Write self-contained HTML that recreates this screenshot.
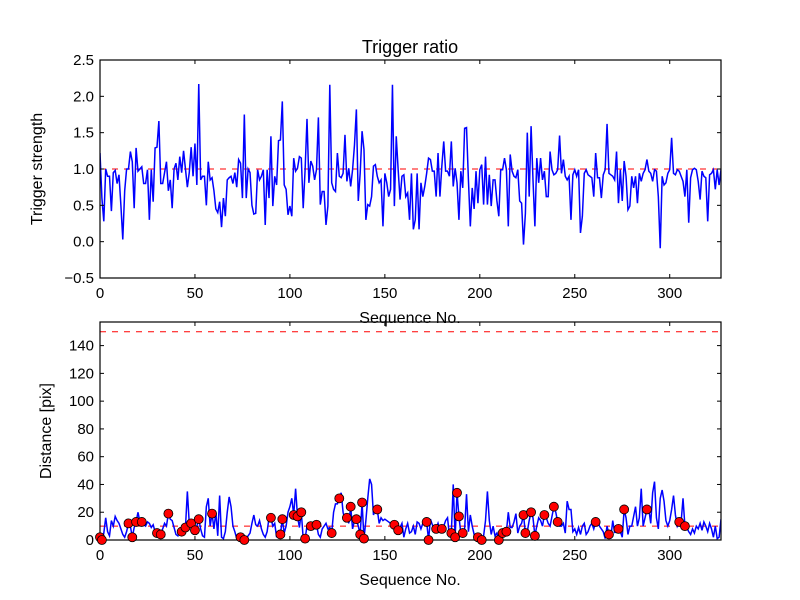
<!DOCTYPE html>
<html><head><meta charset="utf-8"><style>
html,body{margin:0;padding:0;background:#fff;}
svg{display:block;font-family:"Liberation Sans",sans-serif;}
</style></head><body>
<svg id="fig" width="800" height="600" viewBox="0 0 800 600">
<rect width="800" height="600" fill="#fff"/>
</svg>
<script>
const topValues=[1.22,0.6,0.28,1.0,0.9,0.9,0.42,0.95,0.98,0.8,0.92,0.5,0.03,0.7,1.0,1.0,1.24,1.1,0.46,1.29,0.97,1.0,1.03,0.8,0.8,0.99,0.3,0.99,0.55,1.29,1.3,1.66,0.8,0.8,0.95,1.1,0.7,0.85,0.46,1.0,1.08,0.85,1.17,0.95,1.25,1.0,0.75,0.95,1.3,0.9,1.35,0.78,2.17,0.85,0.9,0.9,0.5,1.1,0.85,0.88,0.7,0.45,0.4,0.55,0.2,0.6,0.35,0.85,0.88,0.9,0.8,0.95,0.75,1.13,1.08,0.6,1.75,0.6,1.0,0.95,0.5,0.38,
0.39,0.99,0.85,0.9,0.99,0.23,0.99,0.6,1.45,0.49,0.9,0.78,1.39,1.4,1.93,0.78,0.72,0.37,0.49,0.35,1.15,0.97,1.01,1.17,1.15,0.46,0.99,1.69,0.81,1.11,1.04,0.85,0.99,1.71,0.51,0.69,0.69,0.23,0.49,2.16,0.81,0.72,0.69,1.22,0.9,0.88,0.94,1.47,0.83,1.01,0.76,0.99,1.33,1.82,0.56,0.94,1.52,1.27,0.3,0.51,0.49,0.62,1.04,1.06,0.9,0.81,0.85,0.21,0.94,0.81,0.62,0.72,2.16,0.49,1.45,0.99,0.58,0.9,0.92,0.62,0.67,0.3,0.94,0.17,
0.3,0.94,0.17,0.81,0.62,0.76,0.94,1.15,1.13,0.97,0.97,0.62,1.22,0.62,1.04,1.38,0.97,0.97,0.9,1.38,0.76,1.01,0.81,0.3,0.97,0.74,1.56,1.57,0.85,0.21,0.74,0.45,0.97,0.53,0.99,1.06,0.51,1.17,0.51,0.92,0.49,0.85,0.85,0.56,0.35,0.99,0.99,1.15,0.99,0.21,1.2,0.97,0.9,0.88,0.99,0.56,0.53,-0.04,0.39,1.5,0.62,1.59,0.85,0.21,1.15,0.81,1.15,0.85,0.97,0.62,0.62,1.24,0.99,0.92,0.94,0.99,1.46,0.94,1.13,0.9,0.85,0.9,0.3,
0.92,0.99,0.9,0.99,0.12,0.35,0.94,0.99,0.92,0.9,0.88,0.62,1.22,0.88,0.88,0.6,0.92,0.99,1.62,0.94,0.92,0.9,0.85,1.24,0.53,0.99,0.56,1.11,0.9,0.44,0.49,0.9,0.74,0.9,0.53,0.94,0.83,0.94,0.99,1.13,0.97,0.94,0.83,0.99,0.97,0.62,
-0.09,0.9,0.78,0.81,0.94,0.99,1.43,0.94,0.92,0.99,0.97,0.9,0.83,0.62,0.99,0.26,0.88,0.99,1.01,0.99,0.83,0.58,0.97,0.9,0.88,0.28,0.92,0.94,0.99,0.72,0.99,0.78,0.99];
const distValues=[2,0,5,16,6,3,14,10,17,14,12,8,4,2,6,12,10,2,9,13,20,13,13,11,10,13,12,9,11,6,5,3,4,8,12,10,19,15,14,9,4,3,8,6,9,9,35,12,12,5,7,10,15,8,3,2,24,30,10,19,8,20,3,32,2,1,6,20,31,24,10,6,1,0,2,1,0,1,3,5,12,18,11,10,14,8,4,2,6,16,16,10,12,2,6,4,15,5,10,20,24,30,18,37,17,9,20,1,1,10,8,10,10,11,11,4,2,8,10,12,8,9,5,20,26,26,30,34,20,14,16,12,24,8,14,15,10,4,27,1,14,30,44,40,18,22,22,12,16,14,15,14,13,12,11,11,8,7,9,12,2,8,12,5,6,10,4,13,12,8,12,13,13,0,15,11,8,8,12,7,8,10,14,16,3,5,40,2,34,17,5,5,8,33,6,18,10,4,4,2,0,0,3,14,35,14,4,10,3,5,0,2,5,6,6,20,9,9,13,19,5,10,12,18,5,6,14,20,16,3,10,16,14,10,18,16,12,10,17,24,20,13,10,10,12,5,28,22,22,6,8,4,9,4,10,12,4,6,10,12,8,13,14,10,8,6,1,10,4,2,14,5,10,8,6,2,22,16,4,10,10,17,24,10,16,37,10,16,22,22,12,34,42,16,8,30,36,28,14,10,14,22,32,18,10,13,13,30,10,9,6,4,8,5,10,8,12,7,13,10,6,12,8,2,10,1,2,15];
const markerIdx=[0,1,15,17,19,22,30,32,36,43,45,48,50,52,59,74,76,90,95,96,102,104,106,108,111,114,122,126,130,132,135,137,138,139,146,155,157,172,173,177,180,185,187,188,189,191,199,201,210,212,214,223,224,227,229,234,239,241,261,268,273,276,288,305,308];
const xTicks=[0,50,100,150,200,250,300];
const topYTicks=[-0.5,0,0.5,1,1.5,2,2.5];
const botYTicks=[0,20,40,60,80,100,120,140];
const topRef=[1.0];
const botRef=[10,150];

const NS="http://www.w3.org/2000/svg";
const svg=document.getElementById('fig');
function mk(t,a,p){const e=document.createElementNS(NS,t);for(const k in a)e.setAttribute(k,a[k]);(p||svg).appendChild(e);return e;}
const L=100,R=721,XMAX=327;
const xs=v=>L+v*(R-L)/XMAX;
function axes(top,bot,ymin,ymax,name){
  const ys=v=>bot-(v-ymin)*(bot-top)/(ymax-ymin);
  const g=mk('g',{});
  
  
  const cid='c'+name;
  const cp=mk('clipPath',{id:cid},g);mk('rect',{x:L,y:top,width:R-L,height:bot-top},cp);
  const plot=mk('g',{'clip-path':'url(#'+cid+')'},g);
  return {g,plot,ys,top,bot};
}
function frame(a,yt,fmt,name){
  const {g,ys,top,bot}=a;
  xTicks.forEach(v=>{const x=xs(v);
    mk('line',{x1:x,x2:x,y1:bot,y2:bot-4,stroke:'#000'},g);
    mk('line',{x1:x,x2:x,y1:top,y2:top+4,stroke:'#000'},g);
    const t=mk('text',{x:x,y:bot+20,'text-anchor':'middle','font-size':'15'},g);t.textContent=v;
    
    
  });
  yt.forEach(v=>{const y=ys(v);
    mk('line',{x1:L,x2:L+4,y1:y,y2:y,stroke:'#000'},g);
    mk('line',{x1:R,x2:R-4,y1:y,y2:y,stroke:'#000'},g);
    const t=mk('text',{x:L-6,y:y+5,'text-anchor':'end','font-size':'15'},g);t.textContent=fmt(v);
    
    
  });
  const r=mk('rect',{x:L,y:top,width:R-L,height:bot-top,fill:'none',stroke:'#000','stroke-width':1.2},g);
  
  
}
const A=axes(60,278,-0.5,2.5,'trigger-axes');
topRef.forEach(v=>{const l=mk('line',{x1:L,x2:R,y1:A.ys(v),y2:A.ys(v),stroke:'#f00','stroke-dasharray':'6,6'},A.plot);
  
  });
const p1=mk('polyline',{points:topValues.map((v,i)=>xs(i)+','+A.ys(v)).join(' '),fill:'none',stroke:'#00f','stroke-width':1.5},A.plot);


frame(A,topYTicks,v=>(v<0?'\u2212':'')+Math.abs(v).toFixed(1),'trigger');
const B=axes(322,540,0,157,'distance-axes');
botRef.forEach(v=>{const l=mk('line',{x1:L,x2:R,y1:B.ys(v),y2:B.ys(v),stroke:'#f00','stroke-dasharray':'6,6'},B.plot);
  
  });
const p2=mk('polyline',{points:distValues.map((v,i)=>xs(i)+','+B.ys(v)).join(' '),fill:'none',stroke:'#00f','stroke-width':1.5},B.plot);


frame(B,botYTicks,v=>String(v),'distance');
markerIdx.forEach(i=>{const c=mk('circle',{cx:xs(i),cy:B.ys(distValues[i]),r:4.5,fill:'#f00',stroke:'#000','stroke-width':0.8},B.g);
  
  });
function txt(x,y,s,size,name,rot){const t=mk('text',{x:x,y:y,'text-anchor':'middle','font-size':size},svg);
  if(rot)t.setAttribute('transform','rotate(-90 '+x+' '+y+')');t.textContent=s;
  
  }
txt(410,53,'Trigger ratio',18,'chart-title');
txt(410,323,'Sequence No.',16,'top-x-axis-title');
txt(410,585,'Sequence No.',16,'bottom-x-axis-title');
txt(42,169,'Trigger strength',16,'top-y-axis-title',true);
txt(51,431,'Distance [pix]',16,'bottom-y-axis-title',true);
</script>
</body></html>
